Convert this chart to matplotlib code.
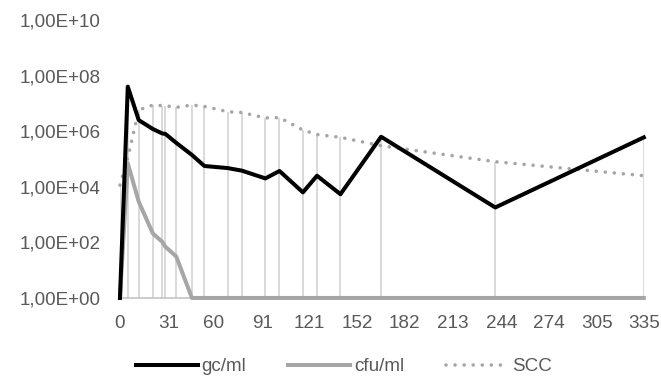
import matplotlib
matplotlib.use('Agg')
import matplotlib.pyplot as plt
import matplotlib.ticker as mticker
import numpy as np

days = [0, 5, 12, 21, 27, 29, 36, 46, 54, 69, 78, 93, 102, 117, 126, 141, 167, 240, 335]
gc_ml = [1, 4.0e7, 2.5e6, 1.2e6, 8.3e5, 8.0e5, 3.8e5, 1.4e5, 5.6e4, 4.7e4, 3.8e4, 2.0e4,
         3.7e4, 6.3e3, 2.5e4, 5.4e3, 6.3e5, 1.8e3, 6.0e5]
cfu_ml = [1, 7.0e4, 2.9e3, 2.1e2, 1.05e2, 7.0e1, 3.1e1, 1, 1, 1, 1, 1,
          1, 1, 1, 1, 1, 1, 1]
scc = [1.15e4, 1.1e5, 5.8e6, 8.7e6, 8.3e6, 8.3e6, 7.2e6, 8.7e6, 7.8e6, 5.0e6, 4.7e6, 3.0e6,
       3.1e6, 1.1e6, 7.6e5, 6.0e5, 3.0e5, 8.0e4, 2.5e4]
x_ticks = [0, 31, 60, 91, 121, 152, 182, 213, 244, 274, 305, 335]

plt.rcParams['font.family'] = ['Liberation Sans', 'DejaVu Sans']
txt = '#595959'

fig = plt.figure(figsize=(6.61, 3.82), dpi=100)
ax = fig.add_axes([0.1815, 0.22, 0.7925, 0.7276])

# drop lines up to the highest series at each date
top = np.max(np.vstack([gc_ml, cfu_ml, scc]), axis=0)
ax.vlines(days, 1, top, color='#d9d9d9', linewidth=1.4, zorder=1)

ax.plot(days, scc, color='#a6a6a6', linewidth=2.6, linestyle=(0, (0.01, 2.5)),
        dash_capstyle='round', label='SCC', zorder=3, clip_on=False)
ax.plot(days, cfu_ml, color='#a6a6a6', linewidth=2.9, label='cfu/ml',
        solid_joinstyle='round', zorder=4, clip_on=False)
ax.plot(days, gc_ml, color='black', linewidth=2.9, label='gc/ml',
        solid_joinstyle='round', zorder=5, clip_on=False)

ax.set_yscale('log')
ax.set_ylim(1, 1e10)
ax.set_xlim(0, 335)
ax.yaxis.set_major_locator(mticker.FixedLocator([1, 1e2, 1e4, 1e6, 1e8, 1e10]))
ax.yaxis.set_minor_locator(mticker.NullLocator())
ax.yaxis.set_major_formatter(mticker.FuncFormatter(lambda v, p: f"{v:.2E}".replace('.', ',')))
ax.set_xticks(x_ticks)

for s in ['top', 'right', 'left']:
    ax.spines[s].set_visible(False)
ax.spines['bottom'].set_color('#bfbfbf')
ax.spines['bottom'].set_linewidth(1.1)
ax.tick_params(axis='both', length=0, labelsize=13.6, colors=txt)
ax.tick_params(axis='y', pad=14)
ax.tick_params(axis='x', pad=12.5)

handles, labels = ax.get_legend_handles_labels()
order = [2, 1, 0]
leg = fig.legend([handles[i] for i in order], [labels[i] for i in order],
                 loc='center', bbox_to_anchor=(0.52, 0.04), ncol=3, frameon=False,
                 fontsize=13.6, handlelength=3.3, handletextpad=0.2, columnspacing=2.2)
for t in leg.get_texts():
    t.set_color(txt)

fig.savefig('out.png', dpi=100)
